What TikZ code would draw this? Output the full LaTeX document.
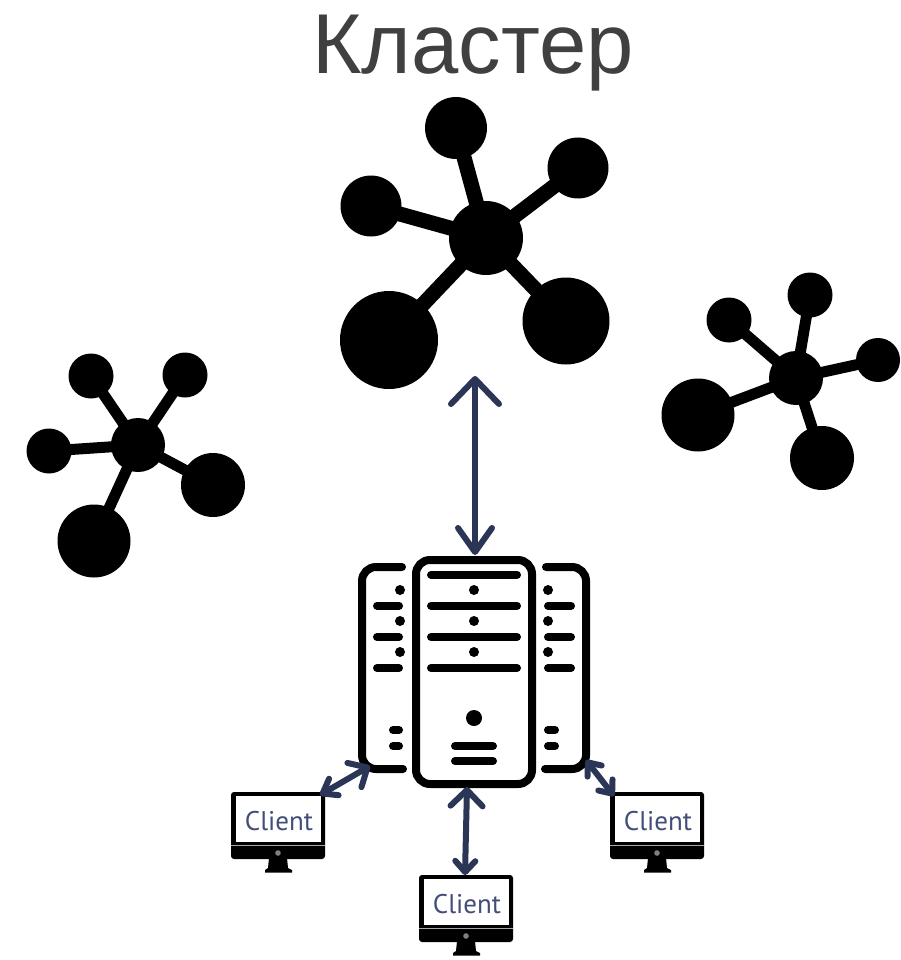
\documentclass[tikz,border=0pt]{standalone}
\usepackage{fontspec}
\setmainfont{Liberation Sans}
\newfontfamily\clientfont{PT Sans}
\usetikzlibrary{arrows.meta}
\definecolor{titlegrey}{HTML}{404040}
\definecolor{arrownavy}{HTML}{2B3556}
\definecolor{clienttext}{HTML}{434E78}
\tikzset{
  ball/.style={circle,fill=black,inner sep=0pt,minimum size=#1},
  bigspoke/.style={line width=15pt,black},
  smallspoke/.style={line width=11pt,black},
  bar/.style={line width=8pt,line cap=round,black},
  outline/.style={line width=8pt,black,rounded corners=14pt},
  dotmark/.style={circle,fill=black,inner sep=0pt,minimum size=10pt},
  link/.style={line width=6pt,arrownavy,line cap=round},
  clientlabel/.style={text=clienttext,font=\clientfont\fontsize{27}{27}\selectfont,inner sep=0pt},
}
\newcommand{\clientmon}[3]{%
  \begin{scope}[shift={(#1,#2)}]
    \fill[black,rounded corners=3pt] (231,792) rectangle (325,859);
    \fill[white] (236,796) rectangle (321,842);
    \fill[white!65!black] (231,844.7) rectangle (325,845.7);
    \fill[black] (269,858) -- (287,858) -- (288,868) -- (292,870) -- (292,872.5) -- (265,872.5) -- (265,870) -- (268,868) -- cycle;
    \fill[white!50!black] (278,853) circle (2.8pt);
    \node[clientlabel] (#3) at (279,821.5) {Client};
  \end{scope}}
\begin{document}
\begin{tikzpicture}[x=1pt,y=-1pt]
\useasboundingbox (0,0) rectangle (900,960);
\fill[white] (0,0) rectangle (900,960);

\node[text=titlegrey,font=\fontsize{85}{85}\selectfont,inner sep=0pt] (title) at (473,53) {Кластер};

% top star
\node[ball=74pt] (tc) at (486,238) {};
\node[ball=62pt] (t1) at (456,128) {};
\node[ball=61pt] (t2) at (578,168) {};
\node[ball=61pt] (t3) at (371,206) {};
\node[ball=98pt] (t4) at (389,340) {};
\node[ball=87pt] (t5) at (566,321) {};
\foreach \s in {t1,t2,t3,t4,t5} \draw[bigspoke] (tc.center) -- (\s.center);

% right star
\node[ball=54pt] (rc) at (796,378) {};
\node[ball=45pt] (r1) at (810,295) {};
\node[ball=45pt] (r2) at (729,320) {};
\node[ball=44pt] (r3) at (878,360) {};
\node[ball=73pt] (r4) at (698,415) {};
\node[ball=64pt] (r5) at (822,458) {};
\foreach \s in {r1,r2,r3,r4,r5} \draw[smallspoke] (rc.center) -- (\s.center);

% left star
\node[ball=54pt] (lc) at (138,445) {};
\node[ball=45pt] (l1) at (91,376) {};
\node[ball=45pt] (l2) at (185,375) {};
\node[ball=45pt] (l3) at (49,451) {};
\node[ball=64pt] (l4) at (213,485) {};
\node[ball=73pt] (l5) at (94,541) {};
\foreach \s in {l1,l2,l3,l4,l5} \draw[smallspoke] (lc.center) -- (\s.center);

% server
\node[draw=black,line width=8pt,rounded corners=14pt,minimum width=116pt,minimum height=224pt,inner sep=0pt,anchor=center] (server) at (474,672) {};
\draw[outline] (402,567) -- (362,567) -- (362,769) -- (403,769);
\draw[outline] (546,567) -- (586,567) -- (586,769) -- (545,769);
\draw[line width=8pt,line cap=round] (402,567) -- +(-1,0) (403,769) -- +(-1,0) (546,567) -- +(1,0) (545,769) -- +(1,0);
\foreach \y in {605.7,637,668} {
  \draw[bar] (377,\y) -- (399,\y);
  \draw[bar] (548,\y) -- (571,\y);
}
\foreach \y in {574.7,605.7,637,668} \draw[bar] (431,\y) -- (517,\y);
\foreach \y in {590,621,652} {
  \node[dotmark] at (400,\y) {};
  \node[dotmark] at (474,\y) {};
  \node[dotmark] at (548,\y) {};
}
\node[ball=16pt] (power) at (474,718) {};
\foreach \y in {746,761} \draw[bar] (455,\y) -- (493,\y);
\foreach \y in {730,746} {
  \draw[bar] (393,\y) -- (399,\y);
  \draw[bar] (548,\y) -- (555,\y);
}

% clients
\clientmon{0}{0}{c1}
\clientmon{188}{83}{c2}
\clientmon{379}{0}{c3}

% connectors
\coordinate (mainTop) at (475,376);
\coordinate (mainBot) at (475,555);
\draw[link,{Straight Barb[round,length=25pt,width=48pt]}-{Straight Barb[round,length=24pt,width=34pt]}] (mainTop) -- (mainBot);
\coordinate (a1) at (320,795);
\coordinate (a2) at (370,766);
\draw[link,{Straight Barb[round,length=13pt,width=19pt]}-{Straight Barb[round,length=15pt,width=28pt]}] (a1) -- (a2);
\coordinate (b1) at (467,787);
\coordinate (b2) at (465,875);
\draw[link,{Straight Barb[round,length=16pt,width=32pt]}-{Straight Barb[round,length=11pt,width=20pt]}] (b1) -- (b2);
\coordinate (d1) at (586,760);
\coordinate (d2) at (614,796);
\draw[link,{Straight Barb[round,length=11pt,width=18pt]}-{Straight Barb[round,length=11pt,width=18pt]}] (d1) -- (d2);
\end{tikzpicture}
\end{document}
